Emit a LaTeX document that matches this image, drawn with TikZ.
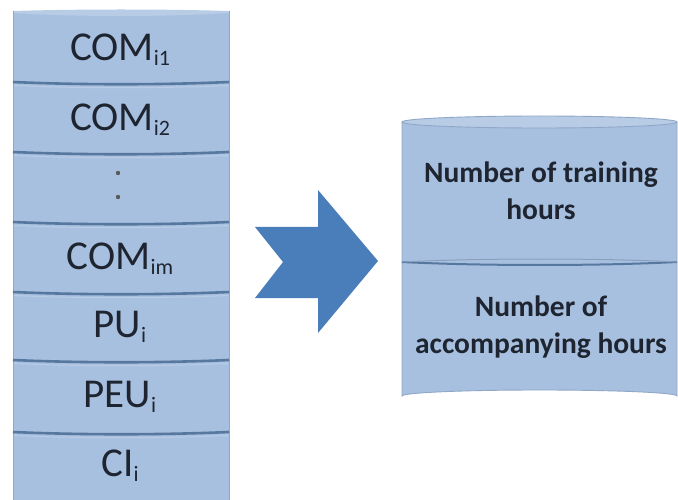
\documentclass[tikz,border=0pt]{standalone}
\usepackage{fontspec}
\setmainfont{Carlito}
\definecolor{slabfill}{HTML}{A8C0E0}
\definecolor{slabtop}{HTML}{B8CCE6}
\definecolor{slabline}{HTML}{56789F}
\definecolor{slabedge}{HTML}{8FA8C8}
\definecolor{arrowblue}{HTML}{4A7EBB}
\definecolor{inkdark}{HTML}{1E2530}
\newcommand{\biglabel}[2]{\fontsize{41}{44}\selectfont #1\raisebox{-5pt}{\fontsize{22}{22}\selectfont #2}}
\tikzset{
  slablabel/.style={inner sep=0pt, text=inkdark, anchor=center},
  sepline/.style={draw=slabline, line width=2.6pt},
  edgeline/.style={draw=slabedge, line width=0.9pt},
  cyltext/.style={inner sep=0pt, text=inkdark, font=\fontsize{29.5}{37}\selectfont\bfseries, align=center},
}
\begin{document}
\begin{tikzpicture}[x=1pt,y=-1pt]
\useasboundingbox (0,0) rectangle (678,500);
\fill[white] (0,0) rectangle (678,500);

% ---- stacked slabs on the left
\fill[slabfill] (13,13) rectangle (229,500);
\fill[slabtop] (13,13) .. controls (80,17) and (162,17) .. (229,13) -- (229,11) .. controls (162,9) and (80,9) .. (13,11) -- cycle;
\draw[edgeline] (13,11) -- (13,500);
\draw[edgeline] (229,11) -- (229,500);
\foreach \yy in {82,152,222,292,360,432}{
  \draw[sepline] (13,\yy) .. controls (80,\yy+3) and (162,\yy+3) .. (229,\yy);
  \draw[draw=slabtop, line width=1pt] (14,\yy+3.5) .. controls (80,\yy+6.5) and (162,\yy+6.5) .. (228,\yy+3.5);
}
\node[slablabel] (com1) at (120,50) {\biglabel{COM}{i1}};
\node[slablabel] (com2) at (120,120) {\biglabel{COM}{i2}};
\fill[black!65] (118,173) circle[radius=2.2];
\fill[black!65] (118,197) circle[radius=2.2];
\node[slablabel] (comm) at (120,259) {\biglabel{COM}{im}};
\node[slablabel] (pu) at (120,327) {\biglabel{PU}{i}};
\node[slablabel] (peu) at (120,397) {\biglabel{PEU}{i}};
\node[slablabel] (ci) at (120,466) {\biglabel{CI}{i}};

% ---- notched block arrow
\fill[arrowblue] (255,227) -- (318,227) -- (318,190) -- (378,261) -- (318,333)
  -- (318,298) -- (255,298) -- (283,262) -- cycle;

% ---- cylinder on the right
\fill[slabfill] (402,122) -- (402,396) arc[start angle=180, end angle=360, x radius=137.5, y radius=6]
  -- (677,122) -- cycle;
\draw[edgeline] (402,122) -- (402,396) arc[start angle=180, end angle=360, x radius=137.5, y radius=6] -- (677,122);
\filldraw[fill=slabtop, draw=slabedge, line width=0.9pt] (539.5,122) ellipse[x radius=137.5, y radius=6];
\draw[sepline, line width=2pt] (402,262) .. controls (480,266) and (600,266) .. (677,262);
\draw[draw=slabline!70, line width=1pt] (402,262) .. controls (480,258) and (600,258) .. (677,262);
\node[cyltext] (train) at (541,191) {Number of training\\hours};
\node[cyltext] (accomp) at (541,327) {Number of\\accompanying hours};
\end{tikzpicture}
\end{document}
